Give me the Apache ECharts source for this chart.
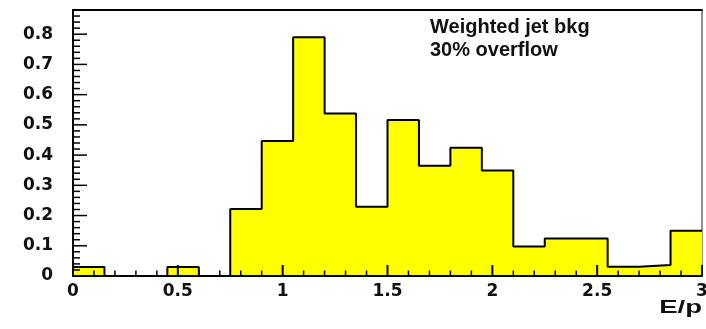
<!DOCTYPE html>
<html>
<head>
<meta charset="utf-8">
<script src="https://cdn.jsdelivr.net/npm/echarts@6/dist/echarts.min.js"></script>
<style>
html,body{margin:0;padding:0;background:#fff;}
#chart{width:706px;height:329px;}
</style>
</head>
<body>
<div id="chart"></div>
<script>
// Histogram of E/p: bin lower edges and bin contents
var binLow = [0, 0.15, 0.30, 0.45, 0.60, 0.75, 0.90, 1.05, 1.20, 1.35, 1.50, 1.65, 1.80, 1.95, 2.10, 2.25, 2.40, 2.55, 2.70, 2.85];
var binHigh = 3.0;
var counts = [0.03, 0, 0, 0.03, 0, 0.222, 0.447, 0.79, 0.538, 0.229, 0.516, 0.365, 0.424, 0.349, 0.098, 0.124, 0.124, 0.031, 0.036, 0.15];
var xMajorTicks = [0, 0.5, 1, 1.5, 2, 2.5, 3];
var xMinorStep = 0.1;
var yMajorTicks = [0, 0.1, 0.2, 0.3, 0.4, 0.5, 0.6, 0.7, 0.8];
var yMinorStep = 0.02;
var yMax = 0.88;
var legendLines = ['Weighted jet bkg', '30% overflow'];
var xTitle = 'E/p';

var stepData = binLow.map(function (x, i) { return [x, counts[i]]; });
stepData.push([binHigh, counts[counts.length - 1]]);

// tick marks: [axis (0 = x, 1 = y), value, isMajor]
var tickData = [];
xMajorTicks.forEach(function (v) { tickData.push([0, v, 1]); });
for (var i = 1; i * xMinorStep < binHigh - 1e-9; i++) {
  var xv = +(i * xMinorStep).toFixed(4);
  if (Math.abs(xv / 0.5 - Math.round(xv / 0.5)) > 1e-6) tickData.push([0, xv, 0]);
}
yMajorTicks.forEach(function (v) { tickData.push([1, v, 1]); });
for (var j = 1; j * yMinorStep < yMax + 1e-9; j++) {
  var yv = +(j * yMinorStep).toFixed(4);
  if (Math.abs(yv / 0.1 - Math.round(yv / 0.1)) > 1e-6) tickData.push([1, yv, 0]);
}

var chart = echarts.init(document.getElementById('chart'), null, {renderer: 'canvas'});
var tickFont = {fontFamily: 'DejaVu Sans', fontWeight: 'bold', fontSize: 17, color: '#111'};

chart.setOption({
  animation: false,
  backgroundColor: '#fff',
  grid: {left: 73, right: 4, top: 10, bottom: 53, show: true, borderColor: '#222', borderWidth: 1, backgroundColor: 'transparent', outerBoundsMode: 'none'},
  xAxis: [{
    type: 'value', min: 0, max: 3, interval: 0.5, z: 10,
    axisLine: {show: true, onZero: false, lineStyle: {color: '#000', width: 2}},
    axisTick: {show: false},
    splitLine: {show: false},
    axisLabel: Object.assign({margin: 7}, tickFont)
  }, {
    type: 'value', min: 0, max: 3, position: 'top',
    axisLine: {show: true, onZero: false, lineStyle: {color: '#000', width: 2}},
    axisTick: {show: false}, axisLabel: {show: false}, splitLine: {show: false}
  }],
  yAxis: {
    type: 'value', min: 0, max: yMax, interval: 0.1,
    axisLine: {show: true, onZero: false, lineStyle: {color: '#000', width: 2}},
    axisTick: {show: false},
    splitLine: {show: false},
    axisLabel: Object.assign({
      margin: 20, showMaxLabel: false,
      formatter: function (v) { return v === 0 ? '0' : v.toFixed(1); }
    }, tickFont)
  },
  series: [{
    type: 'line',
    step: 'end',
    data: stepData,
    showSymbol: false,
    lineStyle: {color: '#000', width: 2},
    areaStyle: {color: '#ffff00', opacity: 1},
    z: 2
  }, {
    type: 'custom',
    xAxisIndex: 0,
    yAxisIndex: 0,
    data: tickData,
    z: 6,
    silent: true,
    encode: {x: 1, y: 1},
    renderItem: function (params, api) {
      var axis = api.value(0);
      var v = api.value(1);
      var major = api.value(2) === 1;
      var p, shape;
      if (axis === 0) {
        p = api.coord([v, 0]);
        var lx = major ? 11 : 5.5;
        shape = {x1: p[0], y1: p[1], x2: p[0], y2: p[1] - lx};
      } else {
        p = api.coord([0, v]);
        var ly = major ? 14 : 7;
        shape = {x1: p[0], y1: p[1], x2: p[0] + ly, y2: p[1]};
      }
      return {type: 'line', shape: shape, style: {stroke: '#000', lineWidth: major && axis === 0 ? 2 : 1.5}};
    }
  }],
  graphic: [
    {type: 'text', x: 430, y: 27.5, z: 20, style: {text: legendLines[0], font: 'bold 20px "Liberation Sans", Arial, sans-serif', fill: '#111', align: 'left', verticalAlign: 'middle'}},
    {type: 'text', x: 430, y: 50.8, z: 20, style: {text: legendLines[1], font: 'bold 20px "Liberation Sans", Arial, sans-serif', fill: '#111', align: 'left', verticalAlign: 'middle'}},
    {type: 'text', x: 702, y: 308, scaleX: 1.45, z: 20, style: {text: xTitle, font: 'bold 19px "Liberation Sans", Arial, sans-serif', fill: '#111', align: 'right', verticalAlign: 'middle'}}
  ]
});
</script>
</body>
</html>
